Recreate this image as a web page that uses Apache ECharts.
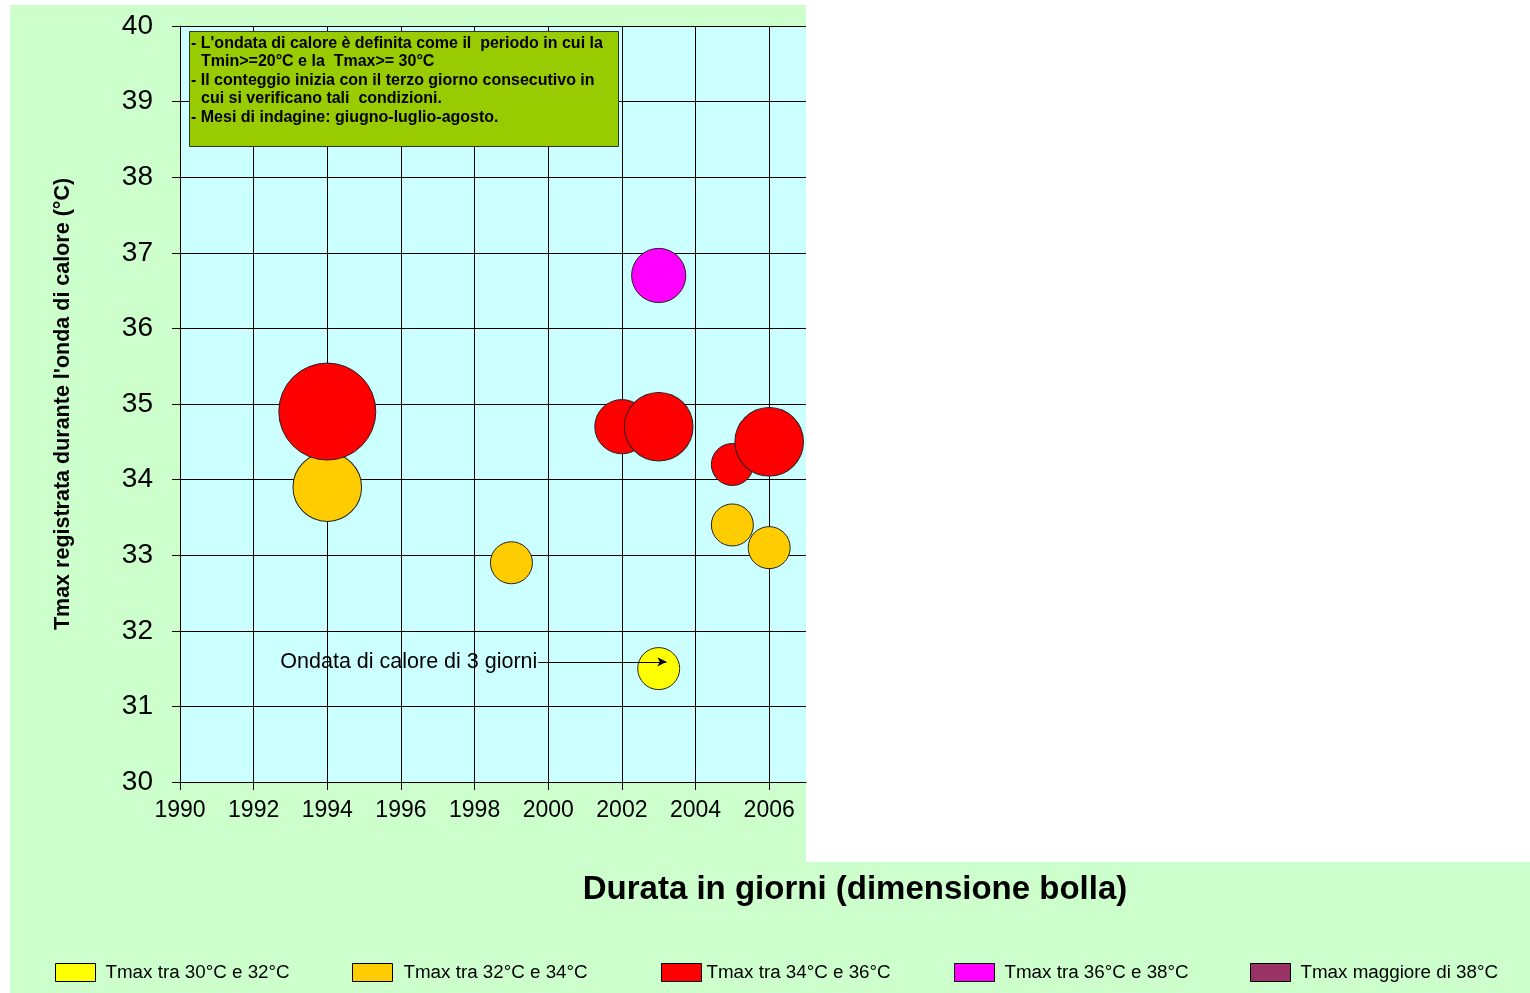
<!DOCTYPE html>
<html>
<head>
<meta charset="utf-8">
<script src="https://cdn.jsdelivr.net/npm/echarts@6/dist/echarts.min.js"></script>
<style>
html,body{margin:0;padding:0;background:#fff;}
#c{width:1530px;height:993px;}
</style>
</head>
<body>
<div id="c"></div>
<script>
// Data: [year, Tmax (°C), duration in days]
const seriesNames = ['Tmax tra 30°C e 32°C','Tmax tra 32°C e 34°C','Tmax tra 34°C e 36°C','Tmax tra 36°C e 38°C','Tmax maggiore di 38°C'];
const seriesColors = ['#ffff00','#ffcc00','#ff0000','#ff00ff','#993366'];
const tmax30_32 = [[2003, 31.5, 3]];
const tmax32_34 = [[1994, 33.9, 8],[1999, 32.9, 3],[2005, 33.4, 3],[2006, 33.1, 3]];
const tmax34_36 = [[1994, 34.9, 16],[2002, 34.7, 5],[2003, 34.7, 8],[2005, 34.2, 3],[2006, 34.5, 8]];
const tmax36_38 = [[2003, 36.7, 5]];
const tmaxOver38 = [];
const xTicks = [1990,1992,1994,1996,1998,2000,2002,2004,2006];
const noteLines = [
  ['- L\'ondata di calore è definita come il  periodo in cui la', 0],
  ['Tmin>=20°C e la  Tmax>= 30°C', 1],
  ['- Il conteggio inizia con il terzo giorno consecutivo in', 0],
  ['cui si verificano tali  condizioni.', 1],
  ['- Mesi di indagine: giugno-luglio-agosto.', 0]
];
const annotationText = 'Ondata di calore di 3 giorni';
const annotationFrom = [1999.73, 31.59];
const annotationTo = [2003.21, 31.59];

const FONT = '"Liberation Sans", Arial, sans-serif';
const allData = [tmax30_32, tmax32_34, tmax34_36, tmax36_38, tmaxOver38];

const chart = echarts.init(document.getElementById('c'));

const series = allData.map((d, i) => {
  const s = {
    name: seriesNames[i],
    type: 'scatter',
    data: d,
    symbolSize: v => 2 * 21 * Math.sqrt(v[2] / 3),
    itemStyle: {color: seriesColors[i], borderColor: '#222', borderWidth: 1, opacity: 1},
    emphasis: {disabled: true},
    z: 3
  };
  if (i === 0) {
    s.markLine = {
      silent: true,
      symbol: ['none', 'arrow'],
      symbolSize: [7, 9],
      lineStyle: {color: '#000', width: 1, type: 'solid'},
      label: {show: true, position: 'start', formatter: annotationText, fontFamily: FONT, fontSize: 21.5, color: '#000', distance: 1, padding: [2, 0, 0, 0]},
      data: [[{coord: annotationFrom}, {coord: annotationTo}]]
    };
  }
  return s;
});

const legendX = [55, 352, 661, 954, 1250];
const legendExtraGap = [5, 6, 0, 5, 5];
const legends = seriesNames.map((n, i) => ({
  data: [n],
  left: legendX[i],
  top: 963,
  padding: 0,
  itemWidth: 40,
  itemHeight: 18,
  icon: 'rect',
  selectedMode: false,
  itemStyle: {borderColor: '#000', borderWidth: 1},
  textStyle: {fontFamily: FONT, fontSize: 18.8, color: '#000', padding: [5, 0, 0, legendExtraGap[i]]}
}));

const noteY = [44, 62, 81, 99, 118];
const graphics = [
  {type: 'rect', z: -100, silent: true, shape: {x: 10, y: 5, width: 796, height: 857}, style: {fill: '#ccffcc'}},
  {type: 'rect', z: -100, silent: true, shape: {x: 10, y: 862, width: 1520, height: 131}, style: {fill: '#ccffcc'}},
  {type: 'rect', z: 50, silent: true, shape: {x: 189.5, y: 31.5, width: 429, height: 115}, style: {fill: '#99cc00', stroke: '#333', lineWidth: 1}},
  {type: 'text', z: 60, silent: true, x: 855, y: 890, style: {text: 'Durata in giorni (dimensione bolla)', fontFamily: FONT, fontWeight: 'bold', fontSize: 33, fill: '#000', align: 'center', verticalAlign: 'middle'}}
];
noteLines.forEach((l, i) => {
  graphics.push({type: 'text', z: 60, silent: true, x: l[1] ? 201 : 191, y: noteY[i],
    style: {text: l[0], fontFamily: FONT, fontWeight: 'bold', fontSize: 16, fill: '#000', align: 'left', verticalAlign: 'middle'}});
});

chart.setOption({
  animation: false,
  textStyle: {fontFamily: FONT},
  grid: {left: 180, top: 26, width: 626, height: 756, show: true, backgroundColor: '#ccffff', borderWidth: 0, containLabel: false},
  xAxis: {
    type: 'value', min: 1990, max: 2007, interval: 2,
    axisLine: {show: true, lineStyle: {color: '#000', width: 1}},
    axisTick: {show: true, inside: false, length: 8, lineStyle: {color: '#000'}, customValues: xTicks},
    axisLabel: {fontFamily: FONT, fontSize: 23, color: '#000', margin: 17, customValues: xTicks, formatter: v => String(v)},
    splitLine: {show: true, lineStyle: {color: '#000', width: 1}}
  },
  yAxis: {
    type: 'value', min: 30, max: 40, interval: 1,
    name: "Tmax registrata durante l'onda di calore (°C)",
    nameLocation: 'middle', nameRotate: 90, nameGap: 106,
    nameTextStyle: {fontFamily: FONT, fontWeight: 'bold', fontSize: 21.5, color: '#000'},
    axisLine: {show: true, lineStyle: {color: '#000', width: 1}},
    axisTick: {show: true, inside: false, length: 8, lineStyle: {color: '#000'}},
    axisLabel: {fontFamily: FONT, fontSize: 28, color: '#000', margin: 27},
    splitLine: {show: true, lineStyle: {color: '#000', width: 1}}
  },
  legend: legends,
  graphic: graphics,
  series: series
});
</script>
</body>
</html>
